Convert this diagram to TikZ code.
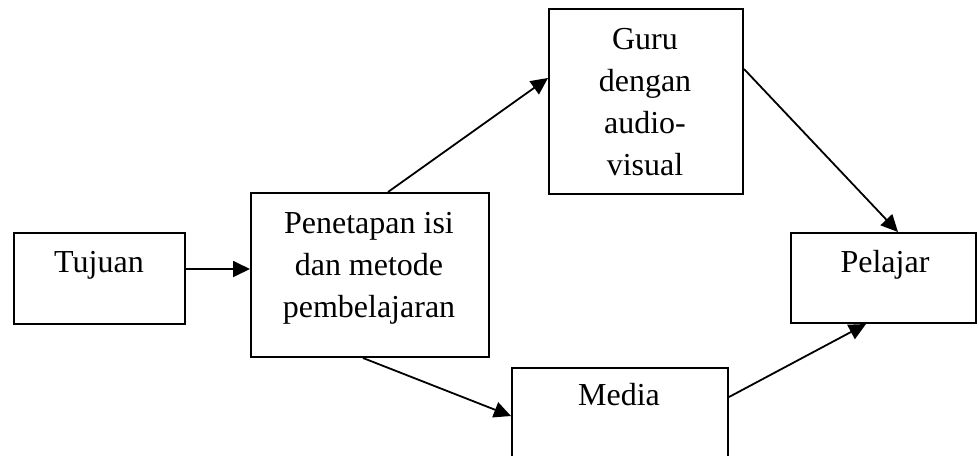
\documentclass[tikz,border=0pt]{standalone}
\usepackage{fontspec}
\setmainfont{Liberation Serif}
\usetikzlibrary{arrows.meta}
\begin{document}
\begin{tikzpicture}[x=1pt,y=-1pt,
  box/.style={draw,line width=2pt,inner sep=0pt,anchor=north west},
  lbl/.style={anchor=base,align=center,inner sep=0pt,font=\fontsize{32}{42}\selectfont},
  arr/.style={line width=1.8pt,-{Triangle[length=17pt,width=16pt]}}]
\useasboundingbox (0,0) rectangle (979,455);
% boxes
\node[box,minimum width=171pt,minimum height=91pt] (tuj) at (13,232) {};
\node[box,minimum width=238pt,minimum height=164pt] (pen) at (250,192) {};
\node[box,minimum width=194pt,minimum height=185pt] (guru) at (548,8) {};
\node[box,minimum width=216pt,minimum height=103pt] (media) at (511,367) {};
\node[box,minimum width=185pt,minimum height=90pt] (pel) at (790,232) {};
% labels (anchored at the baseline of the last line)
\node[lbl] (tujT) at (99,272) {Tujuan};
\node[lbl] (penT) at (369,317) {Penetapan isi\\dan metode\\pembelajaran};
\node[lbl] (guruT) at (645,175) {Guru\\dengan\\audio-\\visual};
\node[lbl] (mediaT) at (619,405) {Media};
\node[lbl] (pelT) at (885,272) {Pelajar};
% connectors
\draw[arr] ([yshift=9.5pt]tuj.east) -- ([yshift=6pt]pen.west);
\draw[arr] ([xshift=18pt]pen.north) -- ([yshift=23.5pt]guru.west);
\draw[arr] ([yshift=32.5pt]guru.east) -- ([xshift=14.5pt]pel.north);
\draw[arr] ([xshift=-7pt]pen.south) -- ([yshift=3.5pt]media.west);
\draw[arr] ([yshift=22.5pt]media.east) -- ([xshift=-17.5pt]pel.south);
\end{tikzpicture}
\end{document}
